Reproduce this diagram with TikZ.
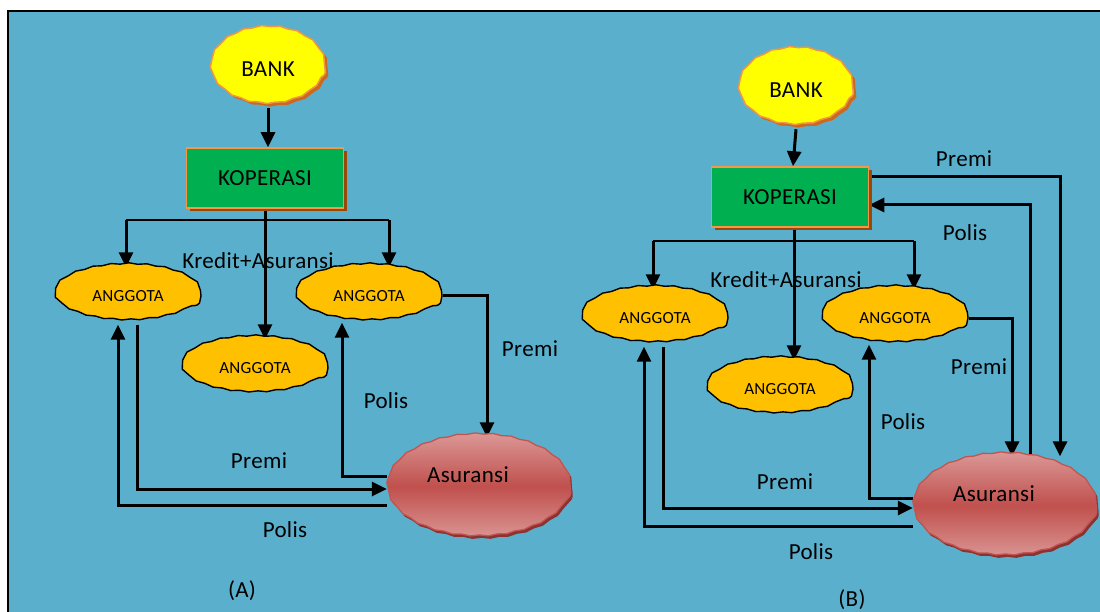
\documentclass[tikz,border=0pt]{standalone}
\usepackage{fontspec}
\setmainfont{Carlito}[LetterSpace=1.5]
\usetikzlibrary{arrows.meta,shapes.geometric,shadows,calc,decorations.pathmorphing}
\pgfdeclarelayer{back}
\pgfsetlayers{back,main}
\definecolor{sea}{RGB}{90,176,204}
\definecolor{bankfill}{RGB}{255,255,0}
\definecolor{bankedge}{RGB}{240,150,70}
\definecolor{bankshade}{RGB}{205,105,30}
\definecolor{kopfill}{RGB}{0,176,80}
\definecolor{kopedge}{RGB}{247,150,70}
\definecolor{kopshade}{RGB}{152,72,7}
\definecolor{memberfill}{RGB}{255,192,0}
\definecolor{insmid}{RGB}{192,80,77}
\definecolor{insedge}{RGB}{196,84,80}
\definecolor{inslight}{RGB}{219,152,150}
\definecolor{insshade}{RGB}{140,50,48}
\begin{document}
\begin{tikzpicture}[x=1pt,y=-1pt,
  bigtext/.style={font=\fontsize{23}{26}\selectfont},
  wavy/.style={decorate, decoration={snake, segment length=18pt, amplitude=0.6pt}},
  bankbox/.style={ellipse, draw=bankedge, line width=1.5pt, fill=bankfill, wavy,
    inner sep=0pt, minimum width=114pt, minimum height=77pt, bigtext,
    drop shadow={shadow xshift=3pt, shadow yshift=-3pt, fill=bankshade, opacity=1}},
  kopbox/.style={rectangle, draw=kopedge, line width=1.5pt, fill=kopfill,
    inner sep=0pt, minimum width=157pt, minimum height=60pt, bigtext,
    drop shadow={shadow xshift=3pt, shadow yshift=-3pt, fill=kopshade, opacity=1}},
  memberbox/.style={ellipse, draw=black, line width=1.4pt, fill=memberfill, wavy,
    inner sep=0pt, minimum width=146pt, minimum height=56pt,
    font=\fontsize{17}{20}\selectfont},
  insbox/.style={ellipse, draw=insedge, line width=1.3pt, wavy,
    top color=inslight, bottom color=inslight, middle color=insmid,
    inner sep=0pt, minimum width=183pt, minimum height=102pt,
    drop shadow={shadow xshift=2pt, shadow yshift=-3pt, fill=insshade, opacity=1},
    label={[bigtext, shift={(-11pt,14pt)}]center:Asuransi}},
  conn/.style={line width=3pt, -{Triangle[length=15pt,width=14pt]}},
  plain/.style={line width=2.4pt},
  tag/.style={bigtext, inner sep=0pt}
]
\useasboundingbox (0,0) rectangle (1100,612);

% canvas and frame
\begin{pgfonlayer}{back}
  \fill[white] (0,0) rectangle (1100,612);
  \fill[sea] (8,11) rectangle (1100,612);
  \draw[line width=2.2pt] (8,613) -- (8,11) -- (1101,11);
\end{pgfonlayer}

% ---------- scheme (A) ----------
\node[bankbox]   (bankA) at (268,69)  {BANK};
\node[kopbox]    (kopA)  at (265,178) {KOPERASI};
\node[memberbox] (angLA) at (128,296) {ANGGOTA};
\node[memberbox] (angRA) at (369,296) {ANGGOTA};
\node[memberbox] (angMA) at (255,368) {ANGGOTA};
\node[insbox]    (asA)   at (479,489) {};

\coordinate (splitLA) at (126,220);
\coordinate (splitRA) at (389,220);

\begin{pgfonlayer}{back}
  \draw[conn] (bankA.south) -- (bankA.south |- kopA.north);
  \draw[conn] (kopA.south) -- (kopA.south |- angMA.north);
  \draw[plain] (splitLA) -- (splitRA);
  \draw[conn] (splitLA) -- (splitLA |- angLA.north);
  \draw[conn] (splitRA) -- (splitRA |- angRA.north);
  \draw[conn] (angRA.east) -| ($(asA.north)+(8,0)$);
  \draw[conn] ([yshift=13pt]asA.west) -| ($(angRA.south)+(-27,-2)$);
  \draw[conn] ($(angLA.south)+(9,0)$) |- (asA.west);
  \draw[conn] ([yshift=-16pt]asA.west) -| ($(angLA.south)+(-10,0)$);
\end{pgfonlayer}

\node[tag] (kreditA) at (258,261) {Kredit+Asuransi};
\node[tag] (premA1)  at (530,349) {Premi};
\node[tag] (polA1)   at (386,401) {Polis};
\node[tag] (premA2)  at (259,461) {Premi};
\node[tag] (polA2)   at (285,530) {Polis};
\node[tag] (capA)    at (242,591) {(A)};

% ---------- scheme (B) ----------
\node[bankbox]   (bankB) at (796,90)  {BANK};
\node[kopbox]    (kopB)  at (790,197) {KOPERASI};
\node[memberbox] (angLB) at (655,318) {ANGGOTA};
\node[memberbox] (angRB) at (895,318) {ANGGOTA};
\node[memberbox] (angMB) at (780,389) {ANGGOTA};
\node[insbox]    (asB)   at (1005,508) {};

\coordinate (splitLB) at (653,241);
\coordinate (splitRB) at (914,241);
\coordinate (trunkB)  at ($(kopB.south)+(4,0)$);

\begin{pgfonlayer}{back}
  \draw[conn] (bankB.south) -- ($(kopB.north)+(3,0)$);
  \draw[conn] (trunkB) -- (trunkB |- angMB.north);
  \draw[plain] (splitLB) -- (splitRB);
  \draw[conn] (splitLB) -- (splitLB |- angLB.north);
  \draw[conn] (splitRB) -- (splitRB |- angRB.north);
  \draw[conn] (angRB.east) -| ($(asB.north)+(7,0)$);
  \draw[conn] ([yshift=10pt]asB.west) -| ($(angRB.south)+(-26,-2)$);
  \draw[conn] ($(angLB.south)+(8,0)$) |- (asB.west);
  \draw[conn] ([yshift=-18pt]asB.west) -| ($(angLB.south)+(-11,0)$);
  \draw[conn] ([yshift=20pt]kopB.east) -| ($(asB.north)+(55,0)$);
  \draw[conn] ($(asB.north)+(25,0)$) |- ([yshift=-8pt]kopB.east);
\end{pgfonlayer}

\node[tag] (kreditB) at (786,280) {Kredit+Asuransi};
\node[tag] (premB1)  at (964,159) {Premi};
\node[tag] (polB1)   at (965,233) {Polis};
\node[tag] (premB2)  at (979,367) {Premi};
\node[tag] (polB2)   at (903,422) {Polis};
\node[tag] (premB3)  at (785,482) {Premi};
\node[tag] (polB3)   at (811,552) {Polis};
\node[tag] (capB)    at (852,600) {(B)};
\end{tikzpicture}
\end{document}
